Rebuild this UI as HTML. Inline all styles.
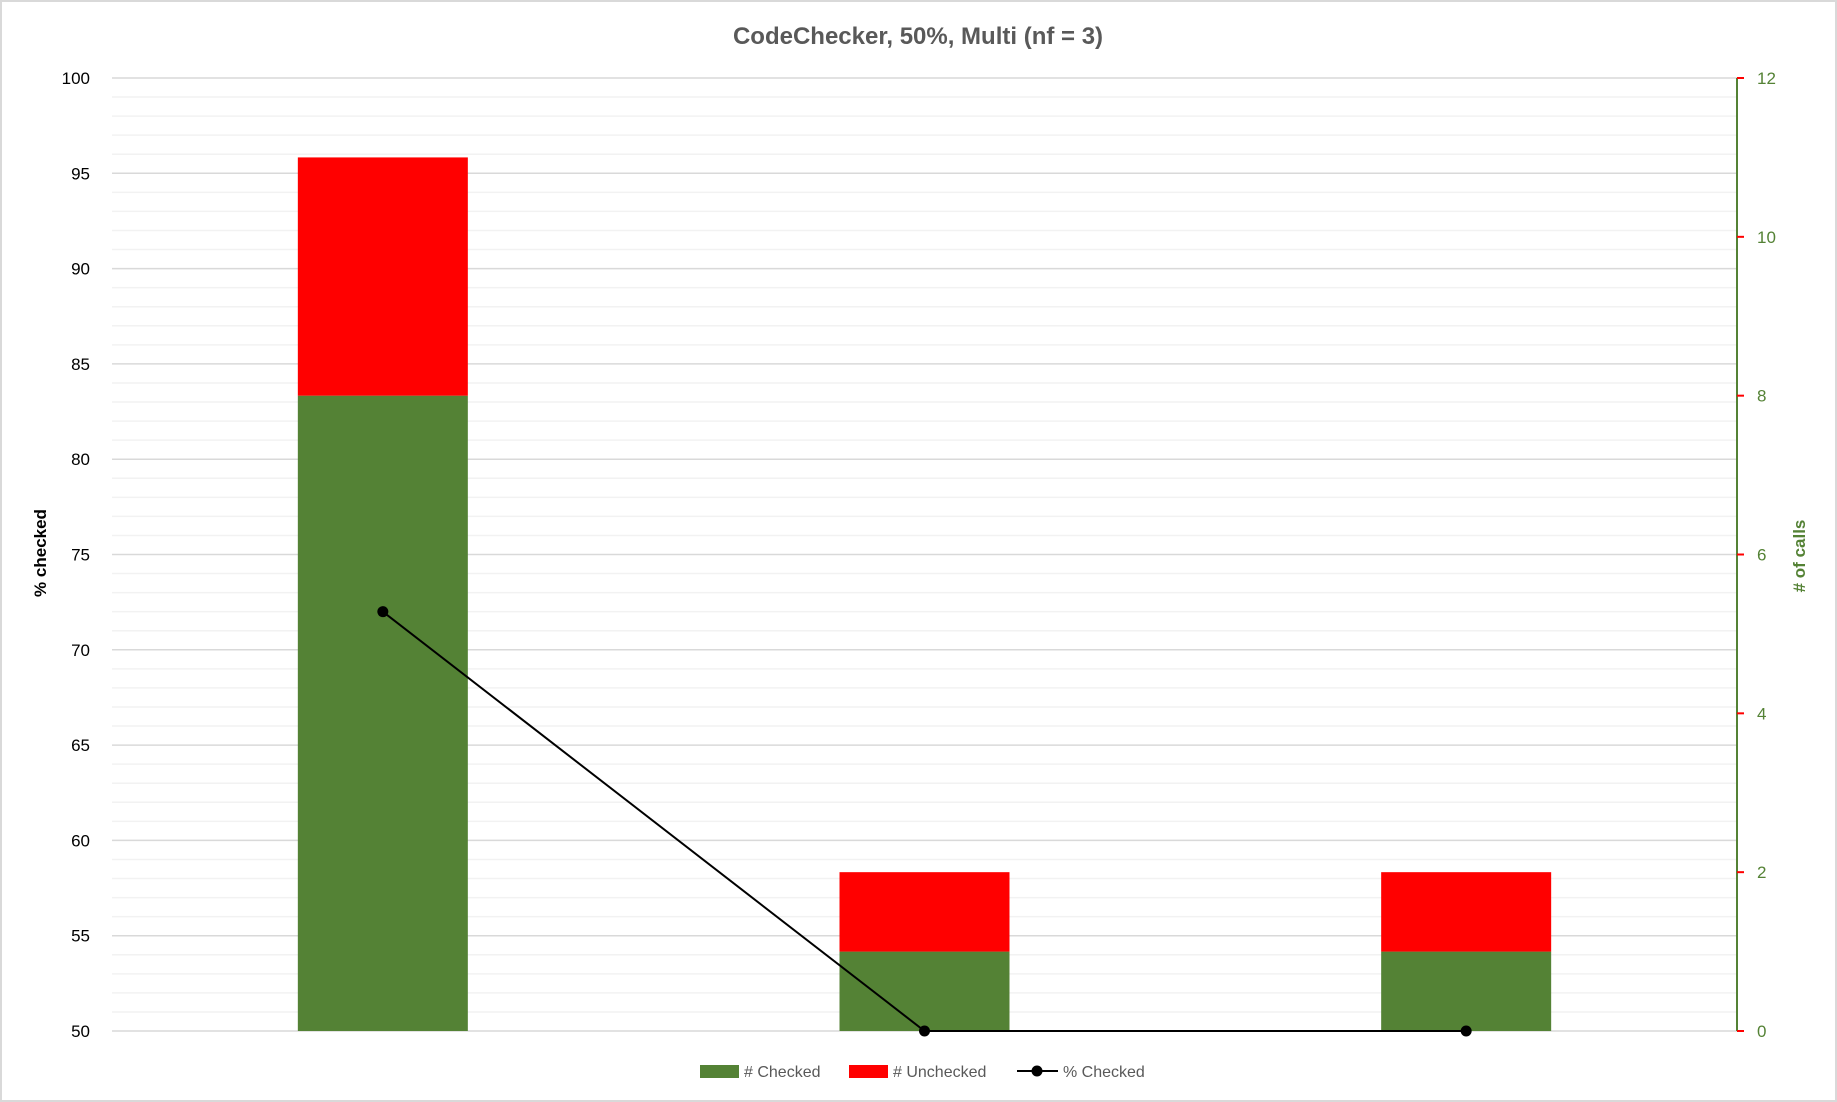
<!DOCTYPE html>
<html><head><meta charset="utf-8"><style>
body{margin:0;background:#fff}
svg{display:block;font-family:"Liberation Sans",sans-serif}
</style></head><body>
<svg id="chart" width="1837" height="1102">
<rect x="1" y="1" width="1835" height="1100" fill="#fff" stroke="#d9d9d9" stroke-width="2"/>
<text x="918" y="44" text-anchor="middle" font-size="24" font-weight="bold" fill="#595959">CodeChecker, 50%, Multi (nf = 3)</text>
<g id="grid"></g><g id="bars"></g><g id="line"></g><g id="axes"></g>
<text transform="translate(46,553) rotate(-90)" text-anchor="middle" font-size="17" font-weight="bold" fill="#000">% checked</text>
<text transform="translate(1805,556) rotate(-90)" text-anchor="middle" font-size="17" font-weight="bold" fill="#548235"># of calls</text>
<g>
<rect x="700" y="1065" width="39" height="13" fill="#548235"/>
<text x="744" y="1077" font-size="16" fill="#595959"># Checked</text>
<rect x="849" y="1065" width="39" height="13" fill="#ff0000"/>
<text x="893" y="1077" font-size="16" fill="#595959"># Unchecked</text>
<line x1="1017" y1="1071" x2="1058" y2="1071" stroke="#000" stroke-width="2"/>
<circle cx="1037" cy="1071" r="5.5" fill="#000"/>
<text x="1063" y="1077" font-size="16" fill="#595959">% Checked</text>
</g>
</svg>
<script>
const categories = ["A","B","C"];
const checked = [8, 1, 1];
const unchecked = [3, 1, 1];
const pctChecked = [72, 50, 50];
const leftTicks = [50,55,60,65,70,75,80,85,90,95,100];
const rightTicks = [0,2,4,6,8,10,12];

const NS="http://www.w3.org/2000/svg";
const X0=112, X1=1737, Y0=1031, Y1=78;
const yL=v=>Y0-(v-50)/50*(Y0-Y1);
const yR=v=>Y0-v/12*(Y0-Y1);
const bw=(X1-X0)/categories.length;
const xC=i=>X0+bw*(i+0.5);
function mk(tag,attrs,parent){const e=document.createElementNS(NS,tag);for(const k in attrs)e.setAttribute(k,attrs[k]);document.getElementById(parent).appendChild(e);return e;}

for(let v=50;v<=100;v++){
  const major=v%5===0;
  const l=mk('line',{x1:X0,x2:X1,y1:yL(v),y2:yL(v),stroke:major?'#d9d9d9':'#f2f2f2','stroke-width':1.5},'grid');
  
  
}
leftTicks.forEach(v=>{
  const t=mk('text',{x:90,y:yL(v)+6,'text-anchor':'end','font-size':17,fill:'#000'},'axes');
  t.textContent=v;
  
  
});
const ax=mk('line',{x1:X1,x2:X1,y1:Y1,y2:Y0,stroke:'#548235','stroke-width':2},'axes');


rightTicks.forEach(v=>{
  const tk=mk('line',{x1:X1,x2:X1+7,y1:yR(v),y2:yR(v),stroke:'#ff0000','stroke-width':2},'axes');
  
  
  const t=mk('text',{x:1757,y:yR(v)+6,'font-size':17,fill:'#548235'},'axes');
  t.textContent=v;
  
  
});
const barW=170;
categories.forEach((c,i)=>{
  const g=mk('rect',{x:xC(i)-barW/2,width:barW,y:yR(checked[i]),height:Y0-yR(checked[i]),fill:'#548235'},'bars');
  
  
  const top=checked[i]+unchecked[i];
  const r=mk('rect',{x:xC(i)-barW/2,width:barW,y:yR(top),height:yR(checked[i])-yR(top),fill:'#ff0000'},'bars');
  
  
});
const pl=mk('polyline',{points:pctChecked.map((v,i)=>xC(i)+','+yL(v)).join(' '),fill:'none',stroke:'#000','stroke-width':2},'line');


pctChecked.forEach((v,i)=>{
  const p=mk('circle',{cx:xC(i),cy:yL(v),r:5.5,fill:'#000'},'line');
  
  
});
</script>
</body></html>
